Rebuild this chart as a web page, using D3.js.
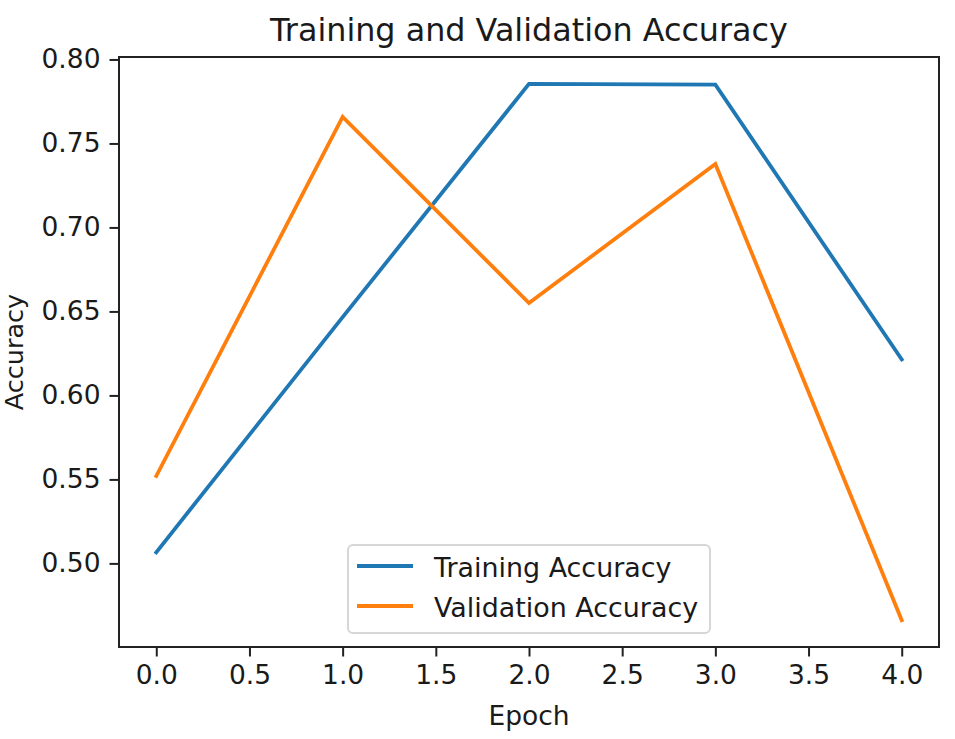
<!DOCTYPE html>
<html>
<head>
<meta charset="utf-8">
<script src="https://cdn.jsdelivr.net/npm/d3@7"></script>
<style>
  html, body { margin: 0; padding: 0; background: #fff; }
  svg text { font-family: "DejaVu Sans", sans-serif; fill: #1a1a1a; }
</style>
</head>
<body>
<div id="chart"></div>
<script>
// values
const epochs = [0, 1, 2, 3, 4];
const trainAcc = [0.5066, 0.6466, 0.7855, 0.7850, 0.6214];
const valAcc = [0.5520, 0.7658, 0.6550, 0.7378, 0.4662];
const xTicks = [0.0, 0.5, 1.0, 1.5, 2.0, 2.5, 3.0, 3.5, 4.0];
const yTicks = [0.50, 0.55, 0.60, 0.65, 0.70, 0.75, 0.80];
const seriesNames = ['Training Accuracy', 'Validation Accuracy'];
const seriesColors = ['#1f77b4', '#ff7f0e'];

const W = 955, H = 739;
const M = { top: 57, right: 16, bottom: 92, left: 119 };
const w = W - M.left - M.right, h = H - M.top - M.bottom;
const FS = 26.5;

const svg = d3.select('#chart').append('svg')
  .attr('width', W).attr('height', H)
  .append('g').attr('transform', `translate(${M.left},${M.top})`);

// matplotlib-style 5% autoscale margins
const all = trainAcc.concat(valAcc);
const lo = d3.min(all), hi = d3.max(all), pad = (hi - lo) * 0.05;
const x = d3.scaleLinear().domain([-0.2, 4.2]).range([0, w]);
const y = d3.scaleLinear().domain([lo - pad, hi + pad]).range([h, 0]);

const xAxis = svg.append('g').attr('transform', `translate(0,${h})`)
  .call(d3.axisBottom(x).tickValues(xTicks).tickFormat(d3.format('.1f')).tickSize(9.5).tickPadding(9));
const yAxis = svg.append('g')
  .call(d3.axisLeft(y).tickValues(yTicks).tickFormat(d3.format('.2f')).tickSize(9.5).tickPadding(9));
[xAxis, yAxis].forEach(a => {
  a.select('.domain').remove();
  a.selectAll('line').attr('stroke', '#222').attr('stroke-width', 2);
  a.selectAll('text').attr('font-size', FS).attr('font-family', '"DejaVu Sans", sans-serif').attr('fill', '#1a1a1a');
});

const line = d3.line().x((d, i) => x(epochs[i])).y(d => y(d));
[trainAcc, valAcc].forEach((s, k) => {
  svg.append('path').datum(s)
    .attr('fill', 'none').attr('stroke', seriesColors[k])
    .attr('stroke-width', 3.8).attr('stroke-linejoin', 'miter').attr('stroke-linecap', 'square')
    .attr('d', line);
});

svg.append('rect').attr('width', w).attr('height', h)
  .attr('fill', 'none').attr('stroke', '#222').attr('stroke-width', 2);

// legend
const leg = svg.append('g').attr('transform', `translate(${348 - M.left},${545 - M.top})`);
leg.append('rect').attr('width', 362).attr('height', 88).attr('rx', 5)
  .attr('fill', '#fff').attr('fill-opacity', 0.8).attr('stroke', '#d6d6d6').attr('stroke-width', 2);
seriesNames.forEach((n, k) => {
  const yy = 21 + k * 40;
  leg.append('line').attr('x1', 9).attr('x2', 65).attr('y1', yy).attr('y2', yy)
    .attr('stroke', seriesColors[k]).attr('stroke-width', 3.8);
  leg.append('text').attr('x', 86).attr('y', yy + 10.5).attr('font-size', 26.9).text(n);
});

svg.append('text').attr('x', w / 2).attr('y', -16).attr('text-anchor', 'middle')
  .attr('font-size', 31.8).text('Training and Validation Accuracy');
svg.append('text').attr('x', w / 2).attr('y', h + 78).attr('text-anchor', 'middle')
  .attr('font-size', FS).text('Epoch');
svg.append('text').attr('transform', `translate(${-M.left + 23},${h / 2}) rotate(-90)`)
  .attr('text-anchor', 'middle').attr('font-size', 25.5).text('Accuracy');
</script>
</body>
</html>
